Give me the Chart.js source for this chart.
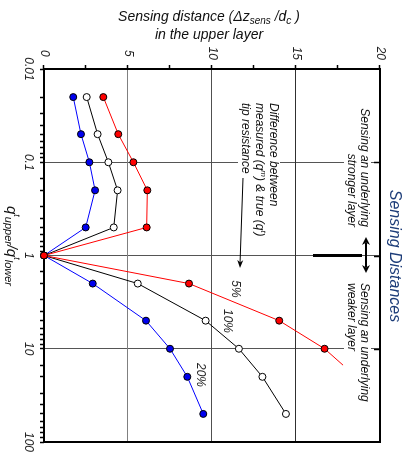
<!DOCTYPE html>
<html>
<head>
<meta charset="utf-8">
<script src="https://cdn.jsdelivr.net/npm/chart.js@4.4.0/dist/chart.umd.min.js"></script>
<style>
html, body { margin: 0; padding: 0; background: #fff; overflow: hidden; width: 412px; height: 453px; }
/* chart is drawn landscape and turned a quarter turn clockwise */
#wrap { position: absolute; left: 0; top: 0; width: 453px; height: 412px; transform-origin: 0 0; transform: translateX(412px) rotate(90deg); }
</style>
</head>
<body>
<div id="wrap"><canvas id="c" width="453" height="412"></canvas></div>
<script>
// q_upper / q_lower ratio (log axis)
const ratios = [0.02, 0.05, 0.1, 0.2, 0.5, 1, 2, 5, 10, 20, 50]
// sensing distance for each measurement error
const dist5 = [3.53, 4.42, 5.32, 6.15, 6.11, 0, 8.63, 14.0, 16.7]
const dist10 = [2.54, 3.19, 3.83, 4.38, 4.15, 0, 5.58, 9.62, 11.6, 13.0, 14.4]
const dist20 = [1.74, 2.20, 2.70, 3.04, 2.48, 0, 2.90, 6.07, 7.50, 8.53, 9.48]
// red line runs on past its last marker
const tail5 = {x: 15, y: 17.8}

const ratioLabels = {'0.01': '0.01', '0.1': '0.1', '1': '1', '10': '10', '100': '100'}
const distLabels = [0, 5, 10, 15, 20]

const FONT = '"Liberation Sans", Arial, sans-serif'
Chart.defaults.font.family = FONT
Chart.defaults.font.style = 'italic'

function pts(xs, ys){
    return ys.map((y, i) => ({x: xs[i], y: y}))
}
function isDecade(v){
    const l = Math.log10(v)
    return Math.abs(l - Math.round(l)) < 1e-6
}

// draws text pieces with sub/superscripts, returns width
function rich(ctx, parts, x, y, align, bg){
    let w = 0
    parts.forEach(p => { ctx.font = 'italic ' + p[1] + 'px ' + FONT; w += ctx.measureText(p[0]).width })
    let cx = align == 'center' ? x - w / 2 : (align == 'right' ? x - w : x)
    if (bg){
        ctx.fillStyle = '#fff'
        ctx.fillRect(cx - 2, y - 7, w + 4, 14)
    }
    ctx.fillStyle = ctx._txt || '#111'
    ctx.textAlign = 'left'
    ctx.textBaseline = 'middle'
    parts.forEach(p => {
        ctx.font = 'italic ' + p[1] + 'px ' + FONT
        ctx.fillText(p[0], cx, y + (p[2] || 0))
        cx += ctx.measureText(p[0]).width
    })
    return w
}

function head(ctx, x, y, ang, len, wid){
    ctx.save()
    ctx.translate(x, y)
    ctx.rotate(ang)
    ctx.beginPath()
    ctx.moveTo(0, 0)
    ctx.lineTo(-len, -wid / 2)
    ctx.lineTo(-len * 0.7, 0)
    ctx.lineTo(-len, wid / 2)
    ctx.closePath()
    ctx.fill()
    ctx.restore()
}

const annot = {
    id: 'annot',
    beforeDatasetsDraw(chart){
        const ctx = chart.ctx, a = chart.chartArea
        ctx.save()
        ctx.strokeStyle = '#000'
        ctx.lineWidth = 2
        ctx.strokeRect(a.left, a.top, a.right - a.left, a.bottom - a.top)
        ctx.restore()
    },
    afterDatasetsDraw(chart){
        const ctx = chart.ctx, a = chart.chartArea
        const xs = chart.scales.x
        ctx.save()
        ctx._txt = '#111'

        // note on the measured vs true resistance
        rich(ctx, [['Difference between', 12]], 103, 139, 'left', true)
        rich(ctx, [['measured (q', 12], ['m', 8, -4], [') & true (q', 12], ['t', 8, -4], [')', 12]], 103, 153, 'left', true)
        rich(ctx, [['tip resistance', 12]], 103, 167, 'left', true)
        ctx.strokeStyle = '#000'
        ctx.lineWidth = 1
        ctx.beginPath()
        ctx.moveTo(178, 169)
        ctx.lineTo(264, 172)
        ctx.stroke()
        ctx.fillStyle = '#000'
        head(ctx, 268, 172, 0.033, 8, 6)

        // stronger / weaker layer notes
        rich(ctx, [['Sensing an underlying', 12]], 227, 48, 'right', true)
        rich(ctx, [['stronger layer', 12]], 227, 61, 'right', true)
        rich(ctx, [['Sensing an underlying', 12]], 283, 48, 'left', true)
        rich(ctx, [['weaker layer', 12]], 283, 61, 'left', true)

        ctx.strokeStyle = '#000'
        ctx.fillStyle = '#000'
        ctx.lineWidth = 2
        ctx.beginPath()
        ctx.moveTo(243, 46)
        ctx.lineTo(267, 46)
        ctx.stroke()
        head(ctx, 237, 46, Math.PI, 8, 8)
        head(ctx, 273, 46, 0, 8, 8)
        const u1 = xs.getPixelForValue(1)
        ctx.lineWidth = 3
        ctx.beginPath()
        ctx.moveTo(u1, 50)
        ctx.lineTo(u1, 99)
        ctx.stroke()

        // inward ticks on the far edge
        ctx.lineWidth = 1.5
        ;[0.1, 1, 10].forEach(q => {
            const u = Math.round(xs.getPixelForValue(q)) + 0.5
            ctx.beginPath()
            ctx.moveTo(u, a.top)
            ctx.lineTo(u, a.top + 6)
            ctx.stroke()
        })

        // series labels
        ctx._txt = '#222'
        rich(ctx, [['5%', 12]], 289, 177, 'center')
        rich(ctx, [['10%', 12]], 321, 185, 'center')
        rich(ctx, [['20%', 12]], 375, 212, 'center')

        // axis titles
        ctx._txt = '#111'
        rich(ctx, [['q', 15], ['t', 9, -6], ['upper', 11, 3], ['/', 14], ['q', 15], ['t', 9, -6], ['lower', 11, 3]], 246, 401, 'center')
        ctx.save()
        ctx.translate(17, 203)
        ctx.rotate(-Math.PI / 2)
        rich(ctx, [['Sensing distance (Δz', 14], ['sens', 10, 4], [' /d', 14], ['c', 10, 4], [' )', 14]], 0, 0, 'center')
        ctx.restore()
        ctx.save()
        ctx.translate(35, 203)
        ctx.rotate(-Math.PI / 2)
        rich(ctx, [['in the upper layer', 14]], 0, 0, 'center')
        ctx.restore()

        ctx._txt = '#1c3c78'
        rich(ctx, [['Sensing Distances', 16]], 256, 18, 'center')
        ctx.restore()
    }
}

const marker = {pointRadius: 3.5, pointBorderWidth: 1, pointBorderColor: '#000', borderWidth: 1, showLine: true, clip: false}

new Chart('c', {
    type: 'scatter',
    data: {
        datasets: [
            Object.assign({}, marker, {
                label: '5%',
                data: pts(ratios, dist5).concat([tail5]),
                borderColor: '#ff0000',
                pointBackgroundColor: '#ff0000',
                pointRadius: ctx => ctx.dataIndex == dist5.length ? 0 : 3.5
            }),
            Object.assign({}, marker, {
                label: '10%',
                data: pts(ratios, dist10),
                borderColor: '#000',
                pointBackgroundColor: '#fff'
            }),
            Object.assign({}, marker, {
                label: '20%',
                data: pts(ratios, dist20),
                borderColor: '#0000ff',
                pointBackgroundColor: '#0000ee'
            })
        ]
    },
    options: {
        responsive: false,
        animation: false,
        devicePixelRatio: 1,
        layout: {padding: {top: 32, right: 11, left: 0, bottom: 0}},
        plugins: {legend: {display: false}, tooltip: {enabled: false}},
        scales: {
            x: {
                type: 'logarithmic',
                position: 'bottom',
                min: 0.01,
                max: 100,
                afterFit: s => { s.height = 44; s.paddingLeft = 0; s.paddingRight = 0 },
                border: {display: false},
                grid: {
                    color: c => (c.tick && isDecade(c.tick.value) && c.tick.value > 0.011 && c.tick.value < 99) ? '#555' : 'rgba(0,0,0,0)',
                    tickColor: '#000',
                    tickLength: 4,
                    tickWidth: 1.5,
                    lineWidth: 1
                },
                ticks: {
                    autoSkip: false,
                    maxRotation: 0,
                    padding: 4,
                    color: '#222',
                    font: {size: 12, style: 'italic'},
                    callback: v => isDecade(v) ? ratioLabels[String(+v.toPrecision(3))] : ''
                }
            },
            y: {
                min: 0,
                max: 20,
                afterFit: s => { s.width = 69 },
                border: {display: false},
                grid: {
                    color: c => {
                        const v = c.tick ? c.tick.value : 0
                        if (v == 5) return '#808080'
                        if (v == 10) return '#505050'
                        if (v == 15) return '#303030'
                        return 'rgba(0,0,0,0)'
                    },
                    tickColor: '#000',
                    tickLength: 4,
                    tickWidth: 1.5
                },
                ticks: {
                    stepSize: 2.5,
                    padding: 5,
                    crossAlign: 'center',
                    color: '#222',
                    font: {size: 12, style: 'italic'},
                    callback: v => distLabels.includes(v) ? String(v) : ''
                }
            }
        }
    },
    plugins: [annot]
})
</script>
</body>
</html>
